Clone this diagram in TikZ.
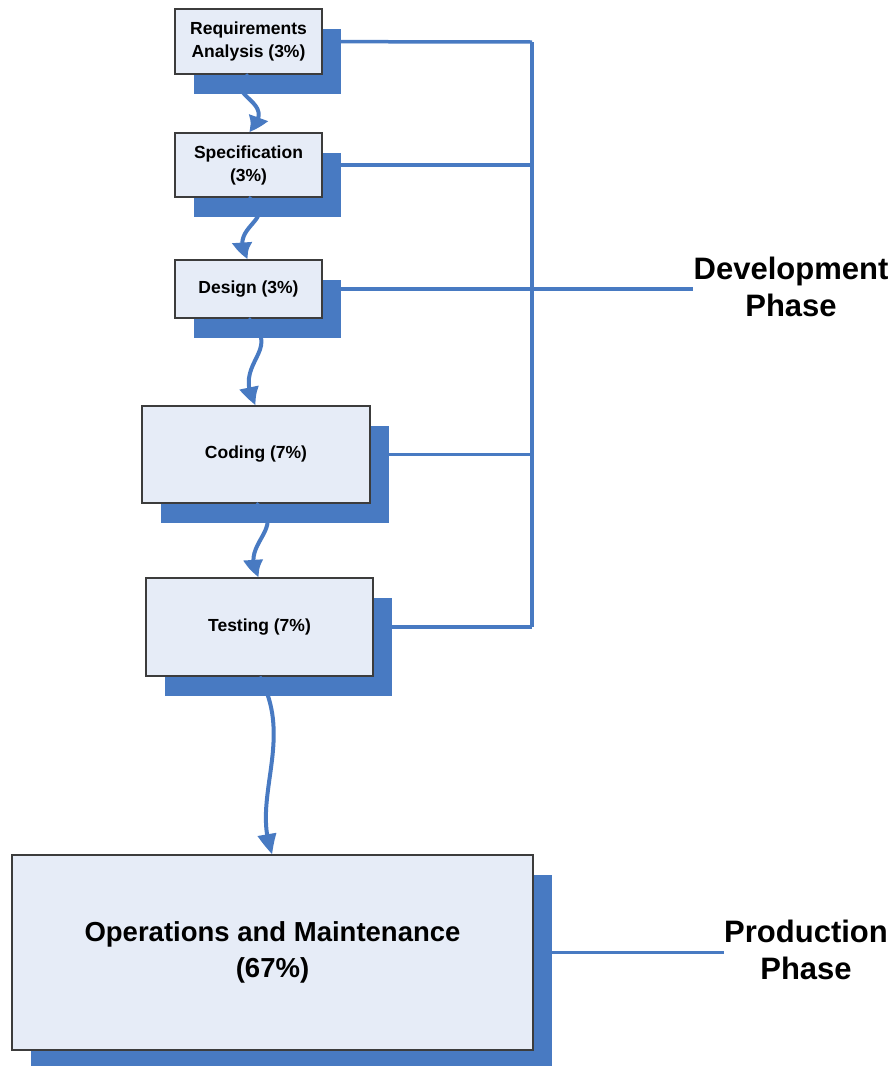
\documentclass[tikz,border=0pt]{standalone}
\usepackage{fontspec}
\setmainfont{Liberation Sans}
\usetikzlibrary{arrows.meta,shadows,bending}
\definecolor{vblue}{RGB}{72,122,194}
\definecolor{boxfill}{RGB}{230,236,247}
\definecolor{boxline}{RGB}{60,60,60}
\tikzset{
  phasebox/.style={draw=boxline, line width=1.4pt, fill=boxfill, rectangle, inner sep=0pt,
    align=center, font=\bfseries\fontsize{17.5}{23}\selectfont,
    general shadow={fill=vblue, shadow xshift=19pt, shadow yshift=-20pt}},
  bigbox/.style={phasebox, font=\bfseries\fontsize{27.5}{36}\selectfont},
  busline/.style={draw=vblue, line width=3.5pt},
  flowarrow/.style={draw=vblue, line width=4pt, -{Triangle[length=21pt,width=18pt,bend]}},
  phaselabel/.style={align=center, inner sep=0pt, font=\bfseries\fontsize{31}{37}\selectfont}
}
\begin{document}
\begin{tikzpicture}[x=1pt,y=-1pt]
\useasboundingbox (0,0) rectangle (895,1066);
% coordinates of the bus
\coordinate (bt) at (532,42);
\coordinate (bb) at (532,627);
% labels
\node[phaselabel] (dev) at (791,287) {Development\\Phase};
\node[phaselabel] (prod) at (806,950) {Production\\Phase};
% bus lines (behind boxes)
\coordinate (req0) at (248.5,41.5);
\coordinate (spec0) at (248.5,165);
\coordinate (des0) at (248.5,289);
\coordinate (cod0) at (256,454.5);
\coordinate (tst0) at (259.5,627);
\coordinate (ops0) at (272.5,952.5);
\path[busline] (bt) -- (bb);
\path[busline] (req0) -- (bt);
\path[busline] (spec0) -- (spec0 -| bt);
\path[busline] (des0) -- (dev.west |- des0);
\path[busline] (cod0) -- (cod0 -| bt);
\path[busline] (tst0) -- (bb);
\path[busline] (ops0) -- (prod.west |- ops0);
% boxes
\node[phasebox, minimum width=147pt, minimum height=65pt] (req) at (req0) {Requirements\\Analysis (3\%)};
\node[phasebox, minimum width=147pt, minimum height=64pt] (spec) at (spec0) {Specification\\(3\%)};
\node[phasebox, minimum width=147pt, minimum height=58pt] (des) at (des0) {Design (3\%)};
\node[phasebox, minimum width=228pt, minimum height=97pt] (cod) at (cod0) {Coding (7\%)};
\node[phasebox, minimum width=227pt, minimum height=98pt] (tst) at (tst0) {Testing (7\%)};
\node[bigbox, minimum width=521pt, minimum height=195pt] (ops) at (ops0) {Operations and Maintenance\\(67\%)};
% flow arrows
\path[flowarrow] (req.south) .. controls (220,98) and (282,100) .. (spec.north);
\path[flowarrow] (spec.south) .. controls (282,220) and (224,226) .. (des.north);
\path[flowarrow] (des.south) .. controls (285,352) and (230,362) .. (cod.north);
\path[flowarrow] (cod.south) .. controls (290,528) and (236,545) .. (tst.north);
\path[flowarrow] (tst.south) .. controls (295,740) and (250,800) .. (ops.north);
\end{tikzpicture}
\end{document}
